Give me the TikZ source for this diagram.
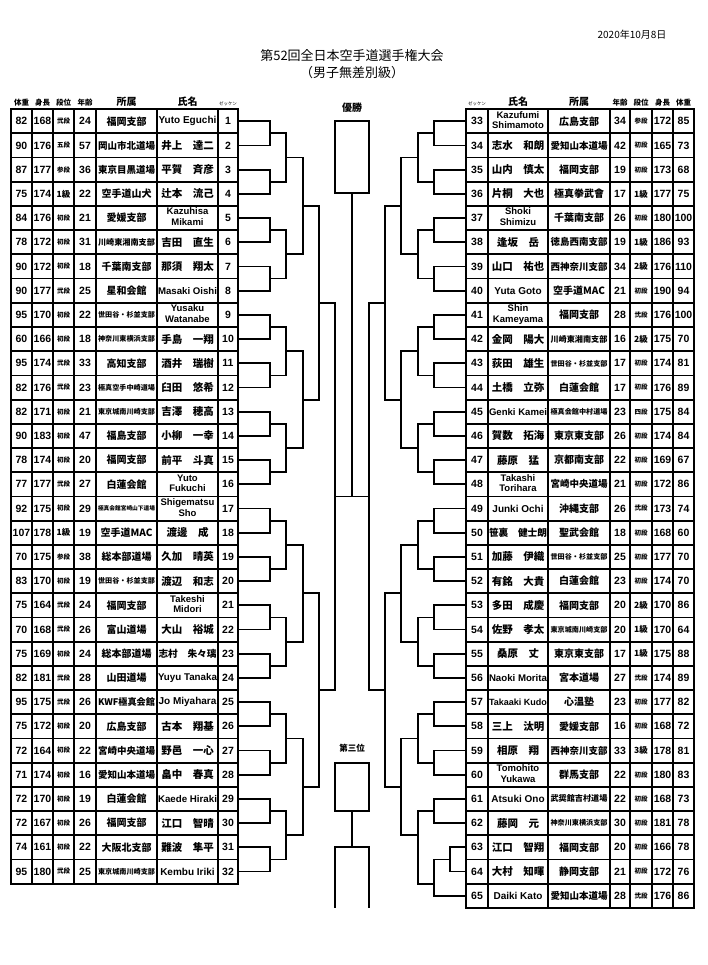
\documentclass[tikz,border=0pt]{standalone}
\usepackage{fontspec}
\usepackage{graphicx}
\setmainfont{Liberation Sans}
\newfontfamily\jp{Noto Sans CJK JP}
\usetikzlibrary{positioning}

% shrink a text to a maximum width
\newcommand\fitw[2]{\resizebox{\ifdim\width>#1 #1\else\width\fi}{!}{#2}}
\newcommand\jname[1]{{\jp\bfseries\fontsize{10.5}{11}\selectfont\fitw{58pt}{#1}}}
\newcommand\two[2]{{\fontsize{9.5}{10.8}\selectfont\begin{tabular}{@{}c@{}}#1\\#2\end{tabular}}}
\newcommand\kyu[1]{{\fontsize{8.5}{9}\selectfont#1級}}

\tikzset{
  cell/.style={draw, line width=1.8pt, minimum height=24.2pt, inner sep=0pt},
  num/.style={font=\bfseries\fontsize{10.5}{11}\selectfont},
  dan/.style={font=\jp\bfseries\fontsize{6.5}{7}\selectfont},
  aff/.style={font=\jp\bfseries\fontsize{10}{10}\selectfont},
  nm/.style={font=\bfseries\fontsize{10}{10}\selectfont},
  head/.style={font=\jp\bfseries\fontsize{7.5}{8}\selectfont},
  bighead/.style={font=\jp\bfseries\fontsize{10}{10}\selectfont},
  tinyhead/.style={font=\jp\fontsize{4.5}{5}\selectfont},
  bline/.style={line width=1.8pt},
}

% left row: no, weight, height, dan, age, dojo, name
\newcommand\lrow[7]{%
  \pgfmathsetmacro\yy{109.2+(#1-0.5)*24.2}%
  \node[cell, num, minimum width=21pt] (w#1) at (21.5,\yy) {#2};
  \node[cell, num, minimum width=21pt] (h#1) at (42.5,\yy) {#3};
  \node[cell, dan, minimum width=21pt] (d#1) at (63.5,\yy) {#4};
  \node[cell, num, minimum width=22pt] (a#1) at (85,\yy) {#5};
  \node[cell, aff, minimum width=61pt] (s#1) at (126.5,\yy) {\fitw{57pt}{#6}};
  \node[cell, nm, minimum width=61pt] (n#1) at (187.5,\yy) {\fitw{59pt}{#7}};
  \node[cell, num, minimum width=20pt] (z#1) at (228,\yy) {#1};
}
% right row: no, name, dojo, age, dan, height, weight
\newcommand\rrow[7]{%
  \pgfmathsetmacro\yy{109.2+(#1-32.5)*24.2}%
  \node[cell, num, minimum width=22pt] (z#1) at (477,\yy) {#1};
  \node[cell, nm, minimum width=60pt] (n#1) at (518,\yy) {\fitw{58pt}{#2}};
  \node[cell, aff, minimum width=62pt] (s#1) at (579,\yy) {\fitw{57pt}{#3}};
  \node[cell, num, minimum width=20pt] (a#1) at (620,\yy) {#4};
  \node[cell, dan, minimum width=22pt] (d#1) at (641,\yy) {#5};
  \node[cell, num, minimum width=21pt] (h#1) at (662.5,\yy) {#6};
  \node[cell, num, minimum width=21pt] (w#1) at (683.5,\yy) {#7};
}

\begin{document}
\begin{tikzpicture}[x=1pt, y=-1pt]

    % Page
    \fill[white] (0,0) rectangle (707,965);
    \useasboundingbox (0,0) rectangle (707,965);

    % Title and date
    \node[font=\jp\fontsize{10}{10}\selectfont, anchor=east] (date) at (670,35) {2020年10月8日};
    \node[font=\jp\fontsize{13}{13}\selectfont] (title) at (352,56) {第52回全日本空手道選手権大会};
    \node[font=\jp\fontsize{13}{13}\selectfont] (subtitle) at (352,73) {（男子無差別級）};

    % Column heads
    \foreach \t/\xx [count=\i] in {体重/21.5,身長/42.5,段位/63.5,年齢/85}
        \node[head] (hl\i) at (\xx,103) {\t};
    \node[bighead] (hl5) at (126.5,102) {所属};
    \node[bighead] (hl6) at (187.5,102) {氏名};
    \node[tinyhead] (hl7) at (228,104) {ゼッケン};
    \node[tinyhead] (hr1) at (477,104) {ゼッケン};
    \node[bighead] (hr2) at (518,102) {氏名};
    \node[bighead] (hr3) at (579,102) {所属};
    \foreach \t/\xx [count=\i from 4] in {年齢/620,段位/641,身長/662.5,体重/683.5}
        \node[head] (hr\i) at (\xx,103) {\t};

    % Left table
    \lrow{1}{82}{168}{弐段}{24}{福岡支部}{Yuto Eguchi}
    \lrow{2}{90}{176}{五段}{57}{岡山市北道場}{\jname{井上　達二}}
    \lrow{3}{87}{177}{参段}{36}{東京目黒道場}{\jname{平賀　斉彦}}
    \lrow{4}{75}{174}{\kyu{1}}{22}{空手道山犬}{\jname{辻本　流己}}
    \lrow{5}{84}{176}{初段}{21}{愛媛支部}{\two{Kazuhisa}{Mikami}}
    \lrow{6}{78}{172}{初段}{31}{川崎東湘南支部}{\jname{吉田　直生}}
    \lrow{7}{90}{172}{初段}{18}{千葉南支部}{\jname{那須　翔太}}
    \lrow{8}{90}{177}{弐段}{25}{星和会館}{Masaki Oishi}
    \lrow{9}{95}{170}{初段}{22}{世田谷・杉並支部}{\two{Yusaku}{Watanabe}}
    \lrow{10}{60}{166}{初段}{18}{神奈川東横浜支部}{\jname{手島　一翔}}
    \lrow{11}{95}{174}{弐段}{33}{高知支部}{\jname{酒井　瑞樹}}
    \lrow{12}{82}{176}{弐段}{23}{極真空手中崎道場}{\jname{臼田　悠希}}
    \lrow{13}{82}{171}{初段}{21}{東京城南川崎支部}{\jname{吉澤　穂高}}
    \lrow{14}{90}{183}{初段}{47}{福島支部}{\jname{小柳　一幸}}
    \lrow{15}{78}{174}{初段}{20}{福岡支部}{\jname{前平　斗真}}
    \lrow{16}{77}{177}{弐段}{27}{白蓮会館}{\two{Yuto}{Fukuchi}}
    \lrow{17}{92}{175}{初段}{29}{極真会館宮崎山下道場}{\two{Shigematsu}{Sho}}
    \lrow{18}{107}{178}{\kyu{1}}{19}{空手道MAC}{\jname{渡邊　成}}
    \lrow{19}{70}{175}{参段}{38}{総本部道場}{\jname{久加　晴英}}
    \lrow{20}{83}{170}{初段}{19}{世田谷・杉並支部}{\jname{渡辺　和志}}
    \lrow{21}{75}{164}{弐段}{24}{福岡支部}{\two{Takeshi}{Midori}}
    \lrow{22}{70}{168}{弐段}{26}{富山道場}{\jname{大山　裕城}}
    \lrow{23}{75}{169}{初段}{24}{総本部道場}{\jname{志村　朱々璃}}
    \lrow{24}{82}{181}{弐段}{28}{山田道場}{Yuyu Tanaka}
    \lrow{25}{95}{175}{弐段}{26}{KWF極真会館}{Jo Miyahara}
    \lrow{26}{75}{172}{初段}{20}{広島支部}{\jname{古本　翔基}}
    \lrow{27}{72}{164}{初段}{22}{宮崎中央道場}{\jname{野邑　一心}}
    \lrow{28}{71}{174}{初段}{16}{愛知山本道場}{\jname{畠中　春真}}
    \lrow{29}{72}{170}{初段}{19}{白蓮会館}{Kaede Hiraki}
    \lrow{30}{72}{167}{初段}{26}{福岡支部}{\jname{江口　智晴}}
    \lrow{31}{74}{161}{初段}{22}{大阪北支部}{\jname{難波　隼平}}
    \lrow{32}{95}{180}{弐段}{25}{東京城南川崎支部}{Kembu Iriki}

    % Right table
    \rrow{33}{\two{Kazufumi}{Shimamoto}}{広島支部}{34}{参段}{172}{85}
    \rrow{34}{\jname{志水　和朗}}{愛知山本道場}{42}{初段}{165}{73}
    \rrow{35}{\jname{山内　慎太}}{福岡支部}{19}{初段}{173}{68}
    \rrow{36}{\jname{片桐　大也}}{極真拳武會}{17}{\kyu{1}}{177}{75}
    \rrow{37}{\two{Shoki}{Shimizu}}{千葉南支部}{26}{初段}{180}{100}
    \rrow{38}{\jname{逢坂　岳}}{徳島西南支部}{19}{\kyu{1}}{186}{93}
    \rrow{39}{\jname{山口　祐也}}{西神奈川支部}{34}{\kyu{2}}{176}{110}
    \rrow{40}{Yuta Goto}{空手道MAC}{21}{初段}{190}{94}
    \rrow{41}{\two{Shin}{Kameyama}}{福岡支部}{28}{弐段}{176}{100}
    \rrow{42}{\jname{金岡　陽大}}{川崎東湘南支部}{16}{\kyu{2}}{175}{70}
    \rrow{43}{\jname{荻田　雄生}}{世田谷・杉並支部}{17}{初段}{174}{81}
    \rrow{44}{\jname{土橋　立弥}}{白蓮会館}{17}{初段}{176}{89}
    \rrow{45}{Genki Kamei}{極真会館中村道場}{23}{四段}{175}{84}
    \rrow{46}{\jname{賀数　拓海}}{東京東支部}{26}{初段}{174}{84}
    \rrow{47}{\jname{藤原　猛}}{京都南支部}{22}{初段}{169}{67}
    \rrow{48}{\two{Takashi}{Torihara}}{宮崎中央道場}{21}{初段}{172}{86}
    \rrow{49}{Junki Ochi}{沖縄支部}{26}{弐段}{173}{74}
    \rrow{50}{\jname{笹裏　健士朗}}{聖武会館}{18}{初段}{168}{60}
    \rrow{51}{\jname{加藤　伊織}}{世田谷・杉並支部}{25}{初段}{177}{70}
    \rrow{52}{\jname{有銘　大貴}}{白蓮会館}{23}{初段}{174}{70}
    \rrow{53}{\jname{多田　成慶}}{福岡支部}{20}{\kyu{2}}{170}{86}
    \rrow{54}{\jname{佐野　孝太}}{東京城南川崎支部}{20}{\kyu{1}}{170}{64}
    \rrow{55}{\jname{桑原　丈}}{東京東支部}{17}{\kyu{1}}{175}{88}
    \rrow{56}{Naoki Morita}{宮本道場}{27}{弐段}{174}{89}
    \rrow{57}{Takaaki Kudo}{心温塾}{23}{初段}{177}{82}
    \rrow{58}{\jname{三上　汰明}}{愛媛支部}{16}{初段}{168}{72}
    \rrow{59}{\jname{相原　翔}}{西神奈川支部}{33}{\kyu{3}}{178}{81}
    \rrow{60}{\two{Tomohito}{Yukawa}}{群馬支部}{22}{初段}{180}{83}
    \rrow{61}{Atsuki Ono}{武奨館吉村道場}{22}{初段}{168}{73}
    \rrow{62}{\jname{藤岡　元}}{神奈川東横浜支部}{30}{初段}{181}{78}
    \rrow{63}{\jname{江口　智翔}}{福岡支部}{20}{初段}{166}{78}
    \rrow{64}{\jname{大村　知暉}}{静岡支部}{21}{初段}{172}{76}
    \rrow{65}{Daiki Kato}{愛知山本道場}{28}{弐段}{176}{86}

    % Left bracket, first round
    \foreach \m in {1,...,16}{
        \pgfmathtruncatemacro\a{2*\m-1}
        \pgfmathtruncatemacro\b{2*\m}
        \coordinate (l1-\m) at (270,{109.2+(2*\m-1)*24.2});
        \draw[bline] (z\a.east) -| (l1-\m) |- (z\b.east);
    }
    % Left bracket, later rounds
    \foreach \r/\xx in {2/286,3/303,4/319,5/335}{
        \pgfmathtruncatemacro\p{\r-1}
        \pgfmathtruncatemacro\n{32/2^\r}
        \foreach \m in {1,...,\n}{
            \pgfmathtruncatemacro\a{2*\m-1}
            \pgfmathtruncatemacro\b{2*\m}
            \coordinate (l\r-\m) at (\xx,{109.2+(2^\r*\m-2^(\r-1))*24.2});
            \draw[bline] (l\p-\a) -| (l\r-\m) |- (l\p-\b);
        }
    }

    % Right bracket, first round
    \foreach \m in {1,...,15}{
        \pgfmathtruncatemacro\a{31+2*\m}
        \pgfmathtruncatemacro\b{32+2*\m}
        \coordinate (r1-\m) at (434,{109.2+(2*\m-1)*24.2});
        \draw[bline] (z\a.west) -| (r1-\m) |- (z\b.west);
    }
    % Preliminary bout 63-64, winner meets 65
    \coordinate (r0) at (450,{109.2+31*24.2});
    \draw[bline] (z63.west) -| (r0) |- (z64.west);
    \coordinate (r1-16) at (434,{109.2+32*24.2});
    \draw[bline] (r0) -| (r1-16) |- (z65.west);
    % Right bracket, later rounds
    \foreach \r/\xx in {2/418,3/401,4/385,5/369}{
        \pgfmathtruncatemacro\p{\r-1}
        \pgfmathtruncatemacro\n{32/2^\r}
        \foreach \m in {1,...,\n}{
            \pgfmathtruncatemacro\a{2*\m-1}
            \pgfmathtruncatemacro\b{2*\m}
            \coordinate (r\r-\m) at (\xx,{109.2+(2^\r*\m-2^(\r-1))*24.2});
            \draw[bline] (r\p-\a) -| (r\r-\m) |- (r\p-\b);
        }
    }

    % Final
    \node[cell, minimum width=34pt, minimum height=72.6pt] (champ) at (352,157) {};
    \node[bighead, above=4pt of champ] (champlabel) {優勝};
    \coordinate (fin) at (352,496.4);
    \draw[bline] (l5-1) -- (r5-1);
    \draw[bline] (champ.south) -- (fin);

    % Third place
    \node[cell, minimum width=34pt, minimum height=47.7pt] (third) at (352,786.9) {};
    \node[head, font=\jp\bfseries\fontsize{8.5}{9}\selectfont, above=6pt of third] (thirdlabel) {第三位};
    \coordinate (t0) at (352,847);
    \coordinate (tl) at (335,907.5);
    \coordinate (tr) at (369,907.5);
    \draw[bline] (third.south) -- (t0);
    \draw[bline] (tl) |- (t0) -| (tr);

\end{tikzpicture}
\end{document}
